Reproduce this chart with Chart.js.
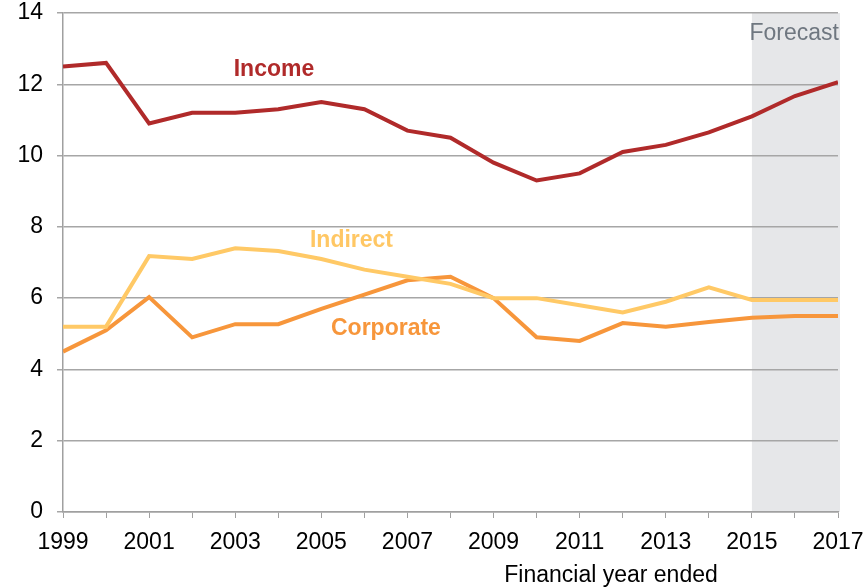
<!DOCTYPE html>
<html>
<head>
<meta charset="utf-8">
<script src="https://cdn.jsdelivr.net/npm/chart.js@4/dist/chart.umd.min.js"></script>
<style>
 html, body { margin: 0; padding: 0; background: #fff; }
 #wrap { width: 863px; height: 587px; }
</style>
</head>
<body>
<div id="wrap"><canvas id="tax-chart"></canvas></div>
<script>
const years = [1999,2000,2001,2002,2003,2004,2005,2006,2007,2008,2009,2010,2011,2012,2013,2014,2015,2016,2017];
const income = [12.5,12.6,10.9,11.2,11.2,11.3,11.5,11.3,10.7,10.5,9.8,9.3,9.5,10.1,10.3,10.65,11.1,11.67,12.06];
const indirect = [5.2,5.2,7.18,7.1,7.4,7.32,7.1,6.8,6.6,6.4,6.0,6.0,5.8,5.6,5.9,6.3,5.95,5.95,5.95];
const corporate = [4.5,5.1,6.03,4.9,5.27,5.27,5.7,6.1,6.5,6.6,6.0,4.9,4.8,5.3,5.2,5.33,5.45,5.5,5.5];
const forecastFrom = 2015;
const yTicks = [0,2,4,6,8,10,12,14];

const font = 'Liberation Sans, Arial, sans-serif';

function pts(vals){
  return years.map((y, i) => ({x: y, y: vals[i]}));
}

// grey band for forecast years + the labels on the lines
const extras = {
  id: 'extras',
  beforeDraw(chart){
    const {ctx, chartArea, scales} = chart;
    const x0 = scales.x.getPixelForValue(forecastFrom);
    const x1 = scales.x.getPixelForValue(years[years.length - 1]);
    ctx.save();
    ctx.fillStyle = '#e6e7e9';
    ctx.fillRect(x0, chartArea.top, x1 - x0 + 2, chartArea.bottom - chartArea.top);
    ctx.fillStyle = '#6f7780';
    ctx.font = '23px ' + font;
    ctx.textAlign = 'right';
    ctx.textBaseline = 'alphabetic';
    ctx.fillText('Forecast', x1 + 1, chartArea.top + 27);
    ctx.restore();
  },
  afterDatasetsDraw(chart){
    const {ctx, scales} = chart;
    const lab = (txt, xv, yv, col) => {
      ctx.fillStyle = col;
      ctx.fillText(txt, scales.x.getPixelForValue(xv), scales.y.getPixelForValue(yv));
    };
    ctx.save();
    ctx.font = 'bold 23px ' + font;
    ctx.textAlign = 'center';
    ctx.textBaseline = 'middle';
    lab('Income', 2003.9, 12.4, '#b02a2a');
    lab('Indirect', 2005.7, 7.6, '#ffc764');
    lab('Corporate', 2006.5, 5.15, '#f7963b');
    ctx.fillStyle = '#000';
    ctx.font = '23px ' + font;
    ctx.textBaseline = 'alphabetic';
    ctx.fillText('Financial year ended', 611, 582);
    ctx.restore();
  }
};

new Chart(document.getElementById('tax-chart'), {
  type: 'line',
  data: {
    datasets: [
      { label: 'Income', data: pts(income), borderColor: '#b02a2a', borderWidth: 4, pointRadius: 0, tension: 0 },
      { label: 'Indirect', data: pts(indirect), borderColor: '#ffc966', borderWidth: 4, pointRadius: 0, tension: 0 },
      { label: 'Corporate', data: pts(corporate), borderColor: '#f7963b', borderWidth: 4, pointRadius: 0, tension: 0 }
    ]
  },
  options: {
    responsive: true,
    maintainAspectRatio: false,
    animation: false,
    layout: { padding: 0 },
    plugins: { legend: { display: false }, tooltip: { enabled: false } },
    scales: {
      x: {
        type: 'linear',
        min: years[0],
        max: years[years.length - 1],
        border: { color: '#a0a0a0', width: 1.5 },
        grid: { drawOnChartArea: false, color: '#a0a0a0', tickLength: 6 },
        afterBuildTicks: ax => { ax.ticks = years.map(v => ({value: v})); },
        afterFit: ax => { ax.height = 75; ax.paddingLeft = 0; ax.paddingRight = 25; },
        ticks: {
          autoSkip: false, maxRotation: 0, padding: 11,
          color: '#000', font: { family: font, size: 23 },
          callback: v => ((v - years[0]) % 2 === 0 ? String(v) : '')
        }
      },
      y: {
        min: 0, max: 14,
        border: { color: '#a0a0a0', width: 1.5 },
        grid: { color: '#a6a6a6', lineWidth: 1.5, tickLength: 6 },
        afterBuildTicks: ax => { ax.ticks = yTicks.map(v => ({value: v})); },
        afterFit: ax => { ax.width = 63; ax.paddingTop = 13; ax.paddingBottom = 0; },
        ticks: { padding: 14, color: '#000', font: { family: font, size: 23 } }
      }
    }
  },
  plugins: [extras]
});
</script>
</body>
</html>
